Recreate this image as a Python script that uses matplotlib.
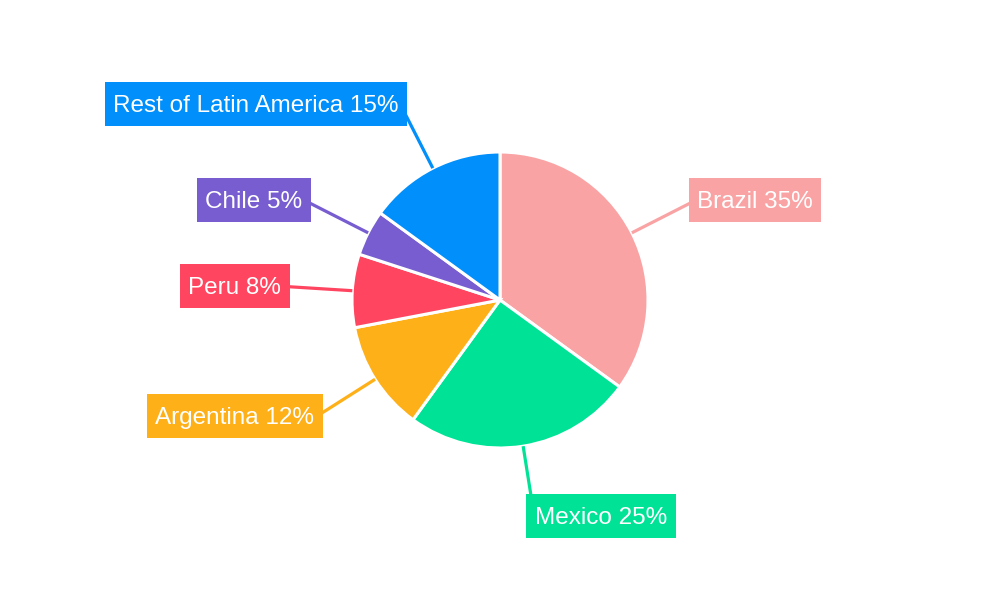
import numpy as np
import matplotlib
matplotlib.use("Agg")
import matplotlib.pyplot as plt
from matplotlib.path import Path

# Market share by country
countries = ["Brazil", "Mexico", "Argentina", "Peru", "Chile", "Rest of Latin America"]
shares = [35, 25, 12, 8, 5, 15]
colors = ["#F9A3A4", "#00E396", "#FEB019", "#FF4560", "#775DD0", "#008FFB"]

# Label box centres (data units, pie radius = 1)
label_pos = [(1.723, 0.676), (0.682, -1.459), (-1.791, -0.784),
             (-1.791, 0.095), (-1.662, 0.676), (-1.649, 1.324)]

plt.rcParams["font.family"] = ["Liberation Sans", "DejaVu Sans"]

FONT_SIZE = 17.5
SHIFT = 0.07  # text sits a touch lower inside its box (fraction of font size)


def label_box(x0, y0, width, height, mutation_size):
    """Rectangle with separate horizontal and vertical padding."""
    px = 0.35 * mutation_size
    py = 0.44 * mutation_size
    d = SHIFT * mutation_size
    bx0, by0 = x0 - px, y0 - py + d
    bx1, by1 = x0 + width + px, y0 + height + py + d
    return Path([(bx0, by0), (bx1, by0), (bx1, by1), (bx0, by1), (bx0, by0)], closed=True)


fig = plt.figure(figsize=(10, 6), dpi=100)
ax = fig.add_axes([0, 0, 1, 1])

wedges, _ = ax.pie(shares, colors=colors, startangle=90, counterclock=False,
                   radius=1.0, center=(0, 0), frame=True,
                   wedgeprops=dict(edgecolor="white", linewidth=2.2))
ax.set_xlim(-500 / 148, 500 / 148)
ax.set_ylim(-300 / 148, 300 / 148)
ax.set_aspect("equal")
ax.axis("off")

px_per_unit = 148.0
shift_units = SHIFT * FONT_SIZE * 100 / 72 / px_per_unit

for w, name, val, col, (lx, ly) in zip(wedges, countries, shares, colors, label_pos):
    mid = np.deg2rad((w.theta1 + w.theta2) / 2)
    cx, cy = np.cos(mid), np.sin(mid)
    ax.plot([cx * 1.0, cx * 1.45], [cy * 1.0, cy * 1.45], color=col,
            lw=2.3, solid_capstyle="butt", zorder=1)
    ax.text(lx, ly - shift_units, f"{name} {val}%", ha="center", va="center",
            color="white", fontsize=FONT_SIZE, zorder=5,
            bbox=dict(boxstyle=label_box, facecolor=col, edgecolor="none"))

fig.savefig("out.png", dpi=100, facecolor="white")
